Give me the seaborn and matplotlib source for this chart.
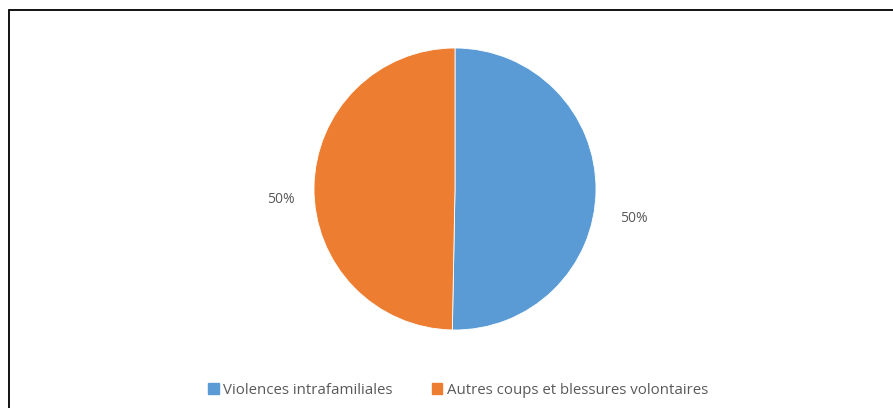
import matplotlib
matplotlib.use('Agg')
import matplotlib.pyplot as plt
import matplotlib.patches as mpatches
import seaborn as sns

# Data
categories = ['Violences intrafamiliales', 'Autres coups et blessures volontaires']
values = [50.3, 49.7]
colors = ['#5B9BD5', '#ED7D31']

sns.set_theme(style='white')
plt.rcParams['font.family'] = ['Open Sans', 'DejaVu Sans']

W, H = 893, 408
fig = plt.figure(figsize=(W / 100, H / 100), dpi=100)

# outer chart frame (cropped on right and bottom)
frame = mpatches.Rectangle((8.5 / W, -0.1), 1.2, (H - 9.5) / H + 0.1,
                           transform=fig.transFigure, fill=False,
                           edgecolor='black', linewidth=1.3, clip_on=False)
fig.patches.append(frame)

cx, cy, r = 455, 189, 141
ax = fig.add_axes([(cx - r) / W, (H - cy - r) / H, 2 * r / W, 2 * r / H])
ax.pie(values, colors=colors, startangle=90, counterclock=False, radius=1,
       wedgeprops=dict(linewidth=0.6, edgecolor='white'))
ax.set_xlim(-1, 1)
ax.set_ylim(-1, 1)
ax.set_aspect('equal')
ax.axis('off')

total = sum(values)
pcts = ['{:.0f}%'.format(v / total * 100) for v in values]
ax.text(1.27, -0.206, pcts[0], ha='center', va='center', fontsize=10, color='#595959')
ax.text(-1.234, -0.078, pcts[1], ha='center', va='center', fontsize=10, color='#595959')

handles = [mpatches.Patch(color=c, label=l) for c, l in zip(colors, categories)]
fig.legend(handles=handles, loc='center', bbox_to_anchor=(458 / W, 1 - 390 / H),
           ncol=2, frameon=False, fontsize=10.8, handlelength=0.7, handleheight=0.7,
           handletextpad=0.3, columnspacing=2.6, labelcolor='#595959')

fig.savefig('out.png', dpi=100, facecolor='white')
